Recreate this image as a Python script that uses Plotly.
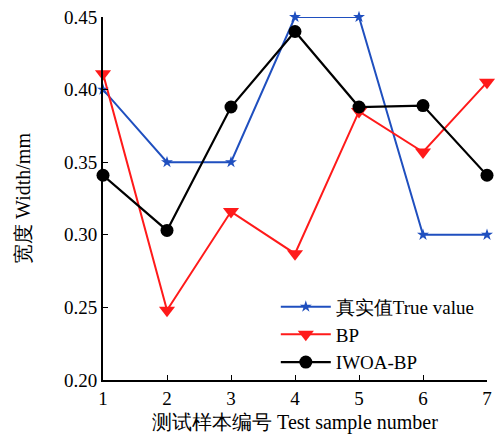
import plotly.graph_objects as go

samples = [1, 2, 3, 4, 5, 6, 7]
true_value = [0.40, 0.35, 0.35, 0.45, 0.45, 0.30, 0.30]
bp_pred = [0.411, 0.248, 0.316, 0.287, 0.385, 0.357, 0.405]
iwoa_bp_pred = [0.341, 0.303, 0.388, 0.440, 0.388, 0.389, 0.341]

y_ticks = [0.20, 0.25, 0.30, 0.35, 0.40, 0.45]

font_family = "Times New Roman, DejaVu Serif, serif"

fig = go.Figure()
fig.add_trace(go.Scatter(
    x=samples, y=true_value, name="真实值True value", mode="lines+markers",
    line=dict(color="#1f4fbf", width=2),
    marker=dict(symbol="star", size=9, color="#1f4fbf"),
    cliponaxis=False,
))
fig.add_trace(go.Scatter(
    x=samples, y=bp_pred, name="BP", mode="lines+markers",
    line=dict(color="#ff1a1a", width=2),
    marker=dict(symbol="triangle-down", size=14, color="#ff1a1a"),
    cliponaxis=False,
))
fig.add_trace(go.Scatter(
    x=samples, y=iwoa_bp_pred, name="IWOA-BP", mode="lines+markers",
    line=dict(color="black", width=2.2),
    marker=dict(symbol="circle", size=13, color="black"),
    cliponaxis=False,
))

fig.update_layout(
    width=497, height=434,
    margin=dict(l=103, r=10, t=17, b=54),
    plot_bgcolor="white", paper_bgcolor="white",
    font=dict(family=font_family, size=19, color="black"),
    showlegend=True,
    legend=dict(
        x=0.45, y=-0.005, xanchor="left", yanchor="bottom",
        bgcolor="rgba(0,0,0,0)", font=dict(family=font_family, size=19),
        tracegroupgap=0, itemwidth=50,
    ),
    xaxis=dict(
        range=[1, 7], tickvals=samples, ticks="inside", ticklen=5,
        showline=True, linecolor="black", linewidth=2, showgrid=False,
        zeroline=False, tickcolor="black", automargin=False,
        tickfont=dict(family=font_family, size=19),
        title=dict(text="测试样本编号 Test sample number", standoff=14,
                   font=dict(family=font_family, size=20)),
    ),
    yaxis=dict(
        range=[0.20, 0.45], tickvals=y_ticks, tickformat=".2f",
        ticks="inside", ticklen=5,
        showline=True, linecolor="black", linewidth=2, showgrid=False,
        zeroline=False, tickcolor="black", automargin=False,
        tickfont=dict(family=font_family, size=19),
        title=dict(text="宽度 Width/mm", standoff=28,
                   font=dict(family=font_family, size=20)),
    ),
)

fig.write_html("out.html")
